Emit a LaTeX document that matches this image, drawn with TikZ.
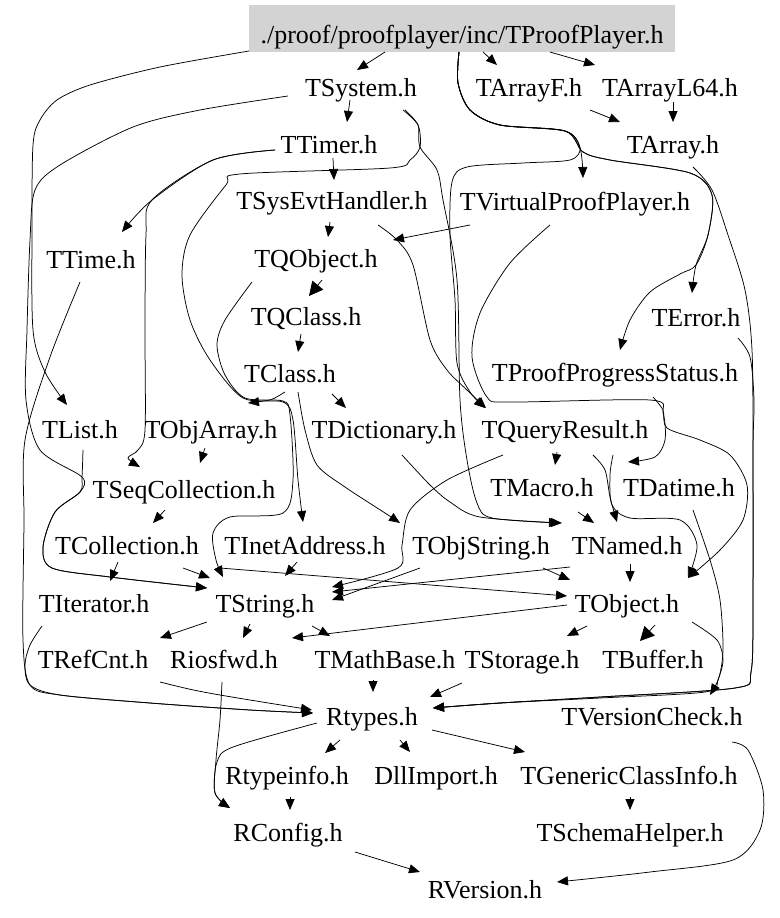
\documentclass[tikz,border=0pt]{standalone}
\usepackage{fontspec}
\setmainfont{Liberation Serif}
\usetikzlibrary{arrows.meta}
\definecolor{rootgray}{RGB}{211,211,211}
\begin{document}
\begin{tikzpicture}[x=1pt,y=-1pt]
\tikzset{
  lbl/.style={inner sep=0pt, text height=18pt, text depth=1pt, font=\fontsize{26}{30}\selectfont},
  conn/.style={line width=0.75pt, -{Triangle[length=11pt,width=9pt]}},
  connbig/.style={line width=0.75pt, -{Triangle[length=14pt,width=14pt]}}
}
\fill[white] (0,0) rectangle (779,918);
\useasboundingbox (0,0) rectangle (779,918);
% nodes
\node[fill=rootgray, minimum width=426pt, minimum height=47pt, inner sep=0pt, text height=36pt, text depth=7pt, font=\fontsize{26}{30}\selectfont] (root) at (462,28.5) {./proof/proofplayer/inc/TProofPlayer.h};
\node[lbl] (TSystem) at (361,88) {TSystem.h};
\node[lbl] (TArrayF) at (529,88) {TArrayF.h};
\node[lbl] (TArrayL64) at (670,88) {TArrayL64.h};
\node[lbl] (TTimer) at (329,145) {TTimer.h};
\node[lbl] (TArray) at (673,145) {TArray.h};
\node[lbl] (TSysEvt) at (332,201) {TSysEvtHandler.h};
\node[lbl] (TVPP) at (575,202) {TVirtualProofPlayer.h};
\node[lbl] (TTime) at (91,260) {TTime.h};
\node[lbl] (TQObject) at (316,259) {TQObject.h};
\node[lbl] (TQClass) at (306,317) {TQClass.h};
\node[lbl] (TError) at (696,318) {TError.h};
\node[lbl] (TClass) at (290,374) {TClass.h};
\node[lbl] (TPPS) at (615,373) {TProofProgressStatus.h};
\node[lbl] (TList) at (80,430) {TList.h};
\node[lbl] (TObjArray) at (211,430) {TObjArray.h};
\node[lbl] (TDictionary) at (384,430) {TDictionary.h};
\node[lbl] (TQR) at (565,430) {TQueryResult.h};
\node[lbl] (TSeqColl) at (184,490) {TSeqCollection.h};
\node[lbl] (TMacro) at (542,488) {TMacro.h};
\node[lbl] (TDatime) at (679,488) {TDatime.h};
\node[lbl] (TCollection) at (127,546) {TCollection.h};
\node[lbl] (TInetAddress) at (305,546) {TInetAddress.h};
\node[lbl] (TObjString) at (481,546) {TObjString.h};
\node[lbl] (TNamed) at (627,546) {TNamed.h};
\node[lbl] (TIterator) at (94,604) {TIterator.h};
\node[lbl] (TString) at (265,604) {TString.h};
\node[lbl] (TObject) at (627,604) {TObject.h};
\node[lbl] (TRefCnt) at (93,660) {TRefCnt.h};
\node[lbl] (Riosfwd) at (224,660) {Riosfwd.h};
\node[lbl] (TMathBase) at (385,660) {TMathBase.h};
\node[lbl] (TStorage) at (522,660) {TStorage.h};
\node[lbl] (TBuffer) at (653,660) {TBuffer.h};
\node[lbl] (Rtypes) at (372,717) {Rtypes.h};
\node[lbl] (TVersionCheck) at (652,717) {TVersionCheck.h};
\node[lbl] (Rtypeinfo) at (287,776) {Rtypeinfo.h};
\node[lbl] (DllImport) at (436,776) {DllImport.h};
\node[lbl] (TGCI) at (629,776) {TGenericClassInfo.h};
\node[lbl] (RConfig) at (288,833) {RConfig.h};
\node[lbl] (TSchemaHelper) at (630,833) {TSchemaHelper.h};
\node[lbl] (RVersion) at (485,890) {RVersion.h};
% edges
\draw[conn] ([shift={(-77,23.5)}]root.center) -- ([shift={(-4,-18)}]TSystem.center);
\draw[conn] ([shift={(21,23.5)}]root.center) -- ([shift={(-32,-23)}]TArrayF.center);
\draw[conn] ([shift={(88,23.5)}]root.center) -- ([shift={(-75,-23)}]TArrayL64.center);
\draw[conn] plot[smooth] coordinates {([shift={(-213,22.5)}]root.center) (160,67) (90,85) (57,100) (40,120) (33,145) (32,230) (33,330) (45,372) ([shift={(-13,-25)}]TList.center)};
\draw[conn] plot[smooth] coordinates {([shift={(-3,23.5)}]root.center) (458,83) (470,110) (500,125) (565,131) (580,148) ([shift={(8,-24)}]TVPP.center)};
\draw[conn] plot[smooth] coordinates {([shift={(-3,23.5)}]root.center) (458,83) (470,110) (500,125) (565,131) (583,152) (610,160) (690,173) (712,195) (708,235) (696,265) ([shift={(-4,-25)}]TError.center)};
\draw[conn] plot[smooth] coordinates {([shift={(-3,23.5)}]root.center) (458,83) (470,110) (500,125) (565,131) (583,152) (610,160) (690,173) (712,195) (708,235) (696,265) (680,274) (650,292) (630,320) ([shift={(5,-23)}]TPPS.center)};
\draw[conn] plot[smooth] coordinates {([shift={(-3,23.5)}]root.center) (458,83) (470,110) (500,125) (565,131) (580,148) (570,160) (523,163) (467,167) (452,182) (450,235) (455,300) (457,363) (470,392) ([shift={(-80,-22)}]TQR.center)};
\draw[conn] ([shift={(61,22)}]TArrayF.center) -- ([shift={(-53,-23)}]TArray.center);
\draw[conn] ([shift={(3,14)}]TArrayL64.center) -- ([shift={(0,-23)}]TArray.center);
\draw[conn] plot[smooth] coordinates {([shift={(20,22)}]TArray.center) (712,190) (728,235) (745,290) (752,350) (753,450) (753,600) (751,672) (735,688) (600,697) (500,703) ([shift={(61,-9)}]Rtypes.center)};
\draw[conn] plot[smooth] coordinates {([shift={(42,20)}]TError.center) (750,357) (754,400) (753,450) (753,600) (751,672) (735,688) (600,697) (500,703) ([shift={(61,-9)}]Rtypes.center)};
\draw[conn] ([shift={(-11,12)}]TSystem.center) -- ([shift={(18,-23)}]TTimer.center);
\draw[conn] plot[smooth] coordinates {([shift={(-73,8)}]TSystem.center) (200,110) (133,127) (60,165) (35,190) (30,240) (27,330) (26,400) (40,450) (82,477) (80,492) (55,512) (43,547) (52,568) (110,577) ([shift={(-58,-16)}]TString.center)};
\draw[conn] plot[smooth] coordinates {([shift={(3,20)}]TList.center) (82,477) (80,492) (55,512) (43,547) (52,568) (110,577) ([shift={(-58,-16)}]TString.center)};
\draw[conn] plot[smooth] coordinates {([shift={(42,22)}]TSystem.center) (418,125) (420,147) (410,160) (390,168) (240,174) (226,185) (190,235) (182,275) (190,320) (210,360) (243,398) (283,402) (293,420) (298,480) ([shift={(-2,-24)}]TInetAddress.center)};
\draw[conn] plot[smooth] coordinates {([shift={(44,22)}]TSystem.center) (418,125) (420,147) (437,170) (443,200) (457,280) (460,400) (467,460) (477,503) (492,518) ([shift={(-67,-23)}]TNamed.center)};
\draw[conn] ([shift={(4,13)}]TTimer.center) -- ([shift={(2,-21)}]TSysEvt.center);
\draw[conn] plot[smooth] coordinates {([shift={(-54,5)}]TTimer.center) (213,160) (152,200) ([shift={(31,-28)}]TTime.center)};
\draw[conn] plot[smooth] coordinates {([shift={(-54,5)}]TTimer.center) (213,160) (152,200) (146,235) (145,330) (145,430) (138,450) (128,458) ([shift={(-44,-23)}]TSeqColl.center)};
\draw[conn] ([shift={(-2,21)}]TSysEvt.center) -- ([shift={(12,-22)}]TQObject.center);
\draw[conn] plot[smooth] coordinates {([shift={(46,24)}]TSysEvt.center) (397,240) (413,265) (430,340) (447,370) (467,390) ([shift={(-79,-22)}]TQR.center)};
\draw[conn] ([shift={(-105,23)}]TVPP.center) -- ([shift={(77,-19)}]TQObject.center);
\draw[conn] plot[smooth] coordinates {([shift={(-25,23)}]TVPP.center) (510,263) (480,313) (472,357) (487,397) (510,402) (650,400) (663,413) (665,440) (655,457) ([shift={(-51,-26)}]TDatime.center)};
\draw[connbig] ([shift={(6,21)}]TQObject.center) -- ([shift={(3,-21)}]TQClass.center);
\draw[conn] plot[smooth] coordinates {([shift={(-64,23)}]TQObject.center) (225,320) (217,345) (225,375) (245,398) (283,401) (290,415) (293,480) (283,513) (230,517) (213,533) (216,560) ([shift={(-42,-27)}]TString.center)};
\draw[conn] ([shift={(-5,17)}]TQClass.center) -- ([shift={(8,-22)}]TClass.center);
\draw[conn] ([shift={(-5,18)}]TClass.center) .. controls (272,400) .. ([shift={(37,-27)}]TObjArray.center);
\draw[conn] ([shift={(42,20)}]TClass.center) -- ([shift={(-38,-22)}]TDictionary.center);
\draw[conn] plot[smooth] coordinates {([shift={(8,18)}]TClass.center) (305,430) (317,465) (345,487) (385,513) ([shift={(-81,-23)}]TObjString.center)};
\draw[conn] plot[smooth] coordinates {([shift={(38,24)}]TPPS.center) (663,410) (667,428) (700,440) (730,455) (747,485) (743,520) (720,550) ([shift={(61,-26)}]TObject.center)};
\draw[conn] ([shift={(-6,18)}]TObjArray.center) -- ([shift={(16,-27)}]TSeqColl.center);
\draw[conn] plot[smooth] coordinates {([shift={(18,25)}]TDictionary.center) (430,485) (450,502) (480,517) ([shift={(-65,-23)}]TNamed.center)};
\draw[conn] ([shift={(-8,22)}]TQR.center) -- ([shift={(13,-23)}]TMacro.center);
\draw[conn] plot[smooth] coordinates {([shift={(28,25)}]TQR.center) (605,470) (610,497) ([shift={(-10,-24)}]TNamed.center)};
\draw[conn] plot[smooth] coordinates {([shift={(48,25)}]TQR.center) (610,475) (612,505) (630,518) (680,520) (697,545) ([shift={(61,-26)}]TObject.center)};
\draw[conn] plot[smooth] coordinates {([shift={(-62,25)}]TQR.center) (447,480) (410,510) (402,545) (398,568) ([shift={(67,-17)}]TString.center)};
\draw[conn] ([shift={(-19,20)}]TSeqColl.center) -- ([shift={(26,-23)}]TCollection.center);
\draw[conn] ([shift={(36,24)}]TMacro.center) -- ([shift={(-33,-23)}]TNamed.center);
\draw[conn] plot[smooth] coordinates {([shift={(14,22)}]TDatime.center) (710,560) (720,600) (723,650) (718,680) (705,692) (600,698) (500,703) ([shift={(61,-9)}]Rtypes.center)};
\draw[conn] ([shift={(-9,16)}]TCollection.center) -- ([shift={(16,-23)}]TIterator.center);
\draw[conn] ([shift={(56,22)}]TCollection.center) -- ([shift={(-55,-26)}]TString.center);
\draw[conn] ([shift={(93,22)}]TCollection.center) -- ([shift={(-60,-8)}]TObject.center);
\draw[conn] ([shift={(-8,16)}]TInetAddress.center) -- ([shift={(20,-28)}]TString.center);
\draw[conn] ([shift={(62,22)}]TObjString.center) -- ([shift={(-57,-24)}]TObject.center);
\draw[conn] ([shift={(-61,22)}]TObjString.center) -- ([shift={(67,-4)}]TString.center);
\draw[conn] ([shift={(-57,21)}]TNamed.center) -- ([shift={(67,-12)}]TString.center);
\draw[conn] ([shift={(3,18)}]TNamed.center) -- ([shift={(3,-22)}]TObject.center);
\draw[conn] plot[smooth] coordinates {([shift={(-52,22)}]TIterator.center) (30,645) (25,665) (30,685) (60,695) (150,703) (250,710) ([shift={(-59,-4)}]Rtypes.center)};
\draw[conn] plot[smooth] coordinates {([shift={(-11,22)}]TTime.center) (50,357) (25,440) (24,523) (23,640) (30,685) (60,695) (150,703) (250,710) ([shift={(-59,-4)}]Rtypes.center)};
\draw[conn] ([shift={(-58,18)}]TString.center) -- ([shift={(67,-22)}]TRefCnt.center);
\draw[conn] ([shift={(-15,20)}]TString.center) -- ([shift={(19,-22)}]Riosfwd.center);
\draw[conn] ([shift={(47,22)}]TString.center) -- ([shift={(-55,-24)}]TMathBase.center);
\draw[conn] ([shift={(-60,1)}]TObject.center) -- ([shift={(68,-22)}]Riosfwd.center);
\draw[conn] ([shift={(-40,22)}]TObject.center) -- ([shift={(45,-24)}]TStorage.center);
\draw[connbig] ([shift={(28,21)}]TObject.center) -- ([shift={(-13,-19)}]TBuffer.center);
\draw[conn] plot[smooth] coordinates {([shift={(65,18)}]TObject.center) (717,640) (723,660) (718,680) ([shift={(58,-22)}]TVersionCheck.center)};
\draw[conn] ([shift={(67,22)}]TRefCnt.center) .. controls (200,692) .. ([shift={(-60,-7)}]Rtypes.center);
\draw[conn] plot[smooth] coordinates {([shift={(-2,22)}]Riosfwd.center) (220,720) (216,760) (215,793) ([shift={(-58,-25)}]RConfig.center)};
\draw[conn] ([shift={(-12,20)}]TMathBase.center) -- ([shift={(1,-25)}]Rtypes.center);
\draw[conn] ([shift={(-60,23)}]TStorage.center) -- ([shift={(58,-20)}]Rtypes.center);
\draw[conn] plot[smooth] coordinates {([shift={(-55,6)}]Rtypes.center) (233,747) (217,762) (215,793) ([shift={(-58,-25)}]RConfig.center)};
\draw[conn] ([shift={(-32,23)}]Rtypes.center) -- ([shift={(38,-23)}]Rtypeinfo.center);
\draw[conn] ([shift={(28,23)}]Rtypes.center) -- ([shift={(-26,-24)}]DllImport.center);
\draw[conn] ([shift={(60,13)}]Rtypes.center) -- ([shift={(-104,-24)}]TGCI.center);
\draw[conn] ([shift={(3,21)}]Rtypeinfo.center) -- ([shift={(2,-23)}]RConfig.center);
\draw[conn] ([shift={(1,21)}]TGCI.center) -- ([shift={(0,-23)}]TSchemaHelper.center);
\draw[conn] ([shift={(67,19)}]RConfig.center) -- ([shift={(-65,-18)}]RVersion.center);
\draw[conn] plot[smooth] coordinates {([shift={(80,25)}]TVersionCheck.center) (748,750) (763,790) (760,830) (733,860) (650,872) ([shift={(72,-8)}]RVersion.center)};
\end{tikzpicture}
\end{document}
